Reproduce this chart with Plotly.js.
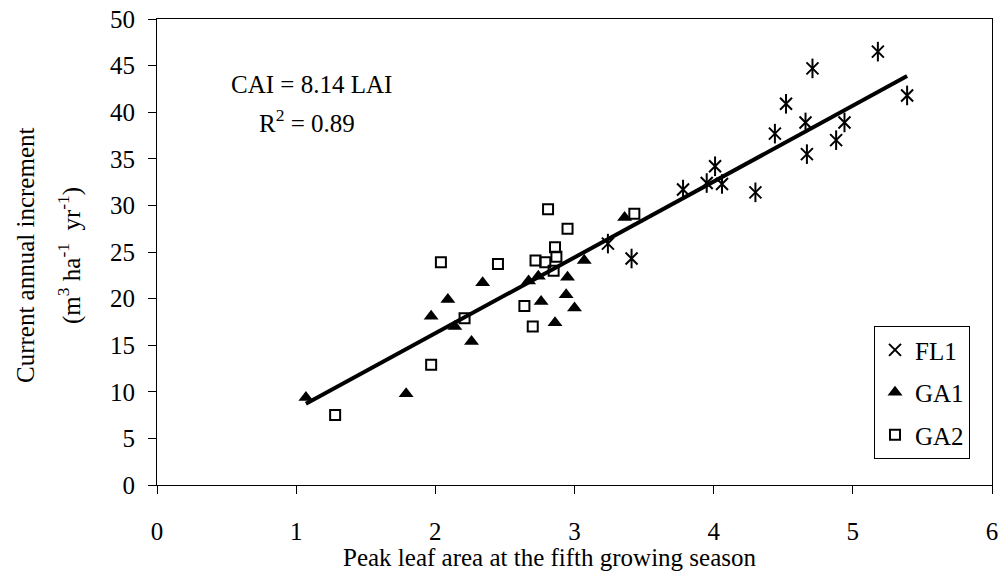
<!DOCTYPE html>
<html>
<head>
<meta charset="utf-8">
<script src="https://cdn.plot.ly/plotly-3.0.1.min.js"></script>
<style>html,body{margin:0;padding:0;background:#fff;}#chart{width:1002px;height:580px;}</style>
</head>
<body>
<div id="chart"></div>
<script>
// FL1 data (LAI, CAI)
const fl1X = [5.18, 4.71, 4.52, 4.66, 4.44, 4.94, 4.88, 4.67, 5.39, 4.01, 3.95, 4.06, 3.78, 4.30, 3.24, 3.41];
const fl1Y = [46.5, 44.7, 40.9, 38.9, 37.7, 38.9, 37.0, 35.5, 41.8, 34.2, 32.4, 32.3, 31.7, 31.4, 25.9, 24.3];
// GA1 data
const ga1X = [3.36, 3.07, 2.95, 2.74, 2.67, 2.34, 2.09, 1.97, 2.14, 2.26, 2.76, 2.94, 3.00, 2.86, 1.07, 1.79];
const ga1Y = [28.7, 24.1, 22.3, 22.4, 21.9, 21.7, 19.9, 18.1, 17.0, 15.4, 19.7, 20.4, 19.0, 17.4, 9.4, 9.8];
// GA2 data
const ga2X = [2.81, 2.95, 2.86, 2.87, 2.72, 2.79, 2.04, 2.45, 2.85, 2.64, 2.70, 2.21, 3.43, 1.28, 1.97];
const ga2Y = [29.6, 27.5, 25.5, 24.5, 24.1, 23.9, 23.9, 23.7, 23.0, 19.2, 17.0, 17.9, 29.1, 7.5, 12.9];
// Regression line CAI = 8.14 LAI
const slope = 8.14;
const fitX = [1.07, 5.39];
const fitY = fitX.map(v => slope * v);

const FONT = '"Liberation Serif", "Times New Roman", Times, serif';

const traces = [
  {x: fitX, y: fitY, mode: 'lines', line: {color: '#000', width: 4}, showlegend: false, hoverinfo: 'skip'},
  {x: fl1X, y: fl1Y, mode: 'markers', name: 'FL1', legendgroup: 'a',
   marker: {symbol: 'x-thin-open', size: 12, color: '#000', line: {color: '#000', width: 2}}},
  {x: fl1X, y: fl1Y, mode: 'markers', name: 'FL1', legendgroup: 'a', showlegend: false,
   marker: {symbol: 'line-ns-open', size: 14, color: '#000', line: {color: '#000', width: 2}}},
  {x: ga1X, y: ga1Y, mode: 'markers', name: 'GA1', legendgroup: 'b',
   marker: {symbol: 'triangle-up', size: 13, color: '#000', line: {width: 0}}},
  {x: ga2X, y: ga2Y, mode: 'markers', name: 'GA2', legendgroup: 'c',
   marker: {symbol: 'square-open', size: 10, color: '#000', line: {color: '#000', width: 2}}}
];

const axisCommon = {
  showgrid: false, zeroline: false, showline: true, linecolor: '#000', linewidth: 1,
  mirror: true, ticks: 'outside', ticklen: 8, tickwidth: 1, tickcolor: '#000',
  tickfont: {family: FONT, size: 25, color: '#000'}
};

const layout = {
  width: 1002, height: 580,
  margin: {l: 157, r: 10, t: 19, b: 95},
  paper_bgcolor: '#fff', plot_bgcolor: '#fff',
  font: {family: FONT, color: '#000'},
  xaxis: Object.assign({}, axisCommon, {
    range: [0, 6], dtick: 1, tick0: 0, ticklabelstandoff: 16
  }),
  yaxis: Object.assign({}, axisCommon, {
    range: [0, 50], dtick: 5, tick0: 0, ticklabelstandoff: 8
  }),
  legend: {
    x: 0.8587, y: 0.341, xanchor: 'left', yanchor: 'top',
    bordercolor: '#000', borderwidth: 1, bgcolor: '#fff',
    font: {family: FONT, size: 25, color: '#000'},
    tracegroupgap: 7, traceorder: 'grouped', itemwidth: 30
  },
  annotations: [
    {xref: 'paper', yref: 'paper', x: (311 - 157) / 835, y: (485 - 85) / 466, xanchor: 'center', yanchor: 'middle',
     text: 'CAI = 8.14 LAI', showarrow: false, font: {family: FONT, size: 25, color: '#000'}},
    {xref: 'paper', yref: 'paper', x: (307 - 157) / 835, y: (485 - 121) / 466, xanchor: 'center', yanchor: 'middle',
     text: 'R<sup>2</sup> = 0.89', showarrow: false, font: {family: FONT, size: 25, color: '#000'}},
    {xref: 'paper', yref: 'paper', x: (550 - 157) / 835, y: (485 - 557) / 466, xanchor: 'center', yanchor: 'middle',
     text: 'Peak leaf area at the fifth growing season', showarrow: false, font: {family: FONT, size: 25, color: '#000'}},
    {xref: 'paper', yref: 'paper', x: (25 - 157) / 835, y: (485 - 255) / 466, xanchor: 'center', yanchor: 'middle',
     text: 'Current annual increment', textangle: -90, showarrow: false, font: {family: FONT, size: 25, color: '#000'}},
    {xref: 'paper', yref: 'paper', x: (70 - 157) / 835, y: (485 - 256) / 466, xanchor: 'center', yanchor: 'middle',
     text: '(m<sup>3</sup> ha<sup>-1</sup>  yr<sup>-1</sup>)', textangle: -90, showarrow: false, font: {family: FONT, size: 25, color: '#000'}}
  ]
};

Plotly.newPlot('chart', traces, layout, {staticPlot: true, displayModeBar: false});
</script>
</body>
</html>
